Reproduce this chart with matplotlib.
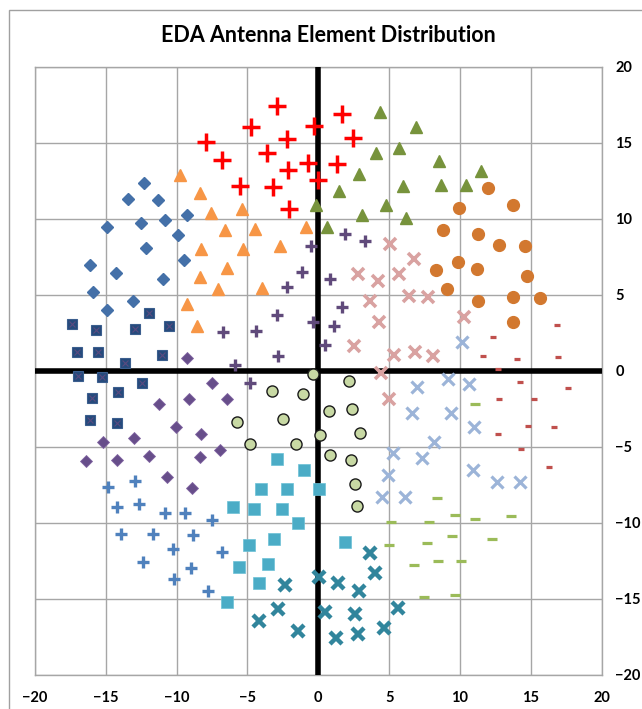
import numpy as np
import matplotlib
matplotlib.use("Agg")
import matplotlib.pyplot as plt
from matplotlib.patches import Rectangle

plt.rcParams["font.family"] = ["Lato", "DejaVu Sans"]

# 各组天线单元坐标 (x, y)
red_plus_x = [-2.90, -4.75, -0.28, 1.65, -7.95, -2.21, 2.47, -6.78, -3.64, -0.73, 1.30, -2.12, -5.53, -3.22, 0.00, -2.05]
red_plus_y = [17.41, 16.05, 16.12, 16.89, 15.03, 15.26, 15.33, 13.86, 14.30, 13.68, 13.58, 13.20, 12.15, 12.11, 12.57, 10.64]

olive_tri_x = [4.36, 6.92, 5.72, 4.10, 8.55, 2.90, 11.51, 1.44, 5.96, 8.69, 10.43, -0.16, 4.80, 3.09, 6.17, 0.59]
olive_tri_y = [17.04, 16.05, 14.63, 14.30, 13.82, 12.92, 13.16, 11.82, 12.15, 12.20, 12.20, 10.90, 10.90, 10.24, 10.03, 9.47]

orange_dot_x = [11.98, 9.96, 13.73, 8.78, 11.30, 12.74, 14.58, 9.84, 11.23, 8.29, 14.72, 9.07, 11.30, 13.73, 15.66, 13.73]
orange_dot_y = [12.00, 10.68, 10.88, 9.26, 8.99, 8.29, 8.20, 7.17, 6.71, 6.61, 6.21, 5.38, 4.61, 4.85, 4.78, 3.22]

orange_tri_x = [-9.77, -8.38, -7.58, -5.39, -6.57, -4.47, -0.87, -8.26, -5.34, -2.68, -6.43, -8.38, -7.06, -4.00, -9.29, -8.59]
orange_tri_y = [12.88, 11.67, 10.36, 10.62, 9.26, 9.32, 9.47, 8.01, 8.01, 8.22, 6.74, 6.18, 5.36, 5.42, 4.37, 2.96]

blue_dia_x = [-12.29, -13.42, -11.30, -9.29, -10.83, -12.54, -14.94, -9.93, -12.17, -9.51, -16.12, -14.31, -10.97, -15.91, -13.11, -14.94]
blue_dia_y = [12.33, 11.32, 11.23, 10.26, 9.91, 9.74, 9.43, 8.91, 8.05, 7.26, 6.95, 6.45, 6.03, 5.18, 4.59, 3.97]

navy_sq_x = [-11.94, -17.37, -15.68, -12.97, -10.52, -17.02, -15.56, -11.02, -13.67, -16.95, -15.30, -12.43, -16.00, -14.12, -16.12, -14.24]
navy_sq_y = [3.78, 3.05, 2.68, 2.74, 2.92, 1.23, 1.23, 1.03, 0.51, -0.33, -0.43, -0.79, -1.82, -1.42, -3.24, -3.42]

purple_dia_x = [-9.29, -7.51, -11.23, -9.13, -6.43, -10.07, -8.26, -15.21, -13.04, -6.92, -16.41, -14.19, -11.94, -8.38, -10.71, -8.94]
purple_dia_y = [0.86, -0.83, -2.19, -1.88, -1.88, -3.73, -4.16, -4.67, -4.45, -5.20, -5.96, -5.89, -5.59, -5.66, -7.01, -7.72]

purple_plus_x = [-0.52, -1.13, 0.80, -2.21, -2.90, -0.37, -6.73, -4.42, 0.45, -2.82, -5.88, 1.86, 3.32, 1.69, 1.09, -4.82]
purple_plus_y = [8.22, 6.47, 6.03, 5.53, 3.64, 3.20, 2.55, 2.61, 1.69, 0.99, 0.36, 8.97, 8.55, 4.21, 2.92, -0.83]

pink_x_x = [5.06, 6.74, 2.82, 4.24, 5.68, 6.43, 7.77, 3.67, 4.29, 10.29, 2.54, 5.35, 6.81, 8.12, 4.41, 4.97]
pink_x_y = [8.32, 7.33, 6.36, 5.90, 6.36, 4.91, 4.83, 4.61, 3.22, 3.51, 1.63, 1.05, 1.21, 0.97, -0.13, -1.88]

ltblue_x_x = [10.13, 9.16, 10.64, 6.95, 6.60, 9.37, 11.02, 8.17, 5.28, 7.30, 10.95, 4.92, 12.60, 14.24, 4.52, 6.10]
ltblue_x_y = [1.87, -0.53, -0.88, -1.09, -2.80, -2.80, -3.68, -4.67, -5.39, -5.72, -6.53, -6.84, -7.30, -7.30, -8.33, -8.33]

red_dash_x = [16.84, 12.32, 11.61, 14.05, 16.95, 12.71, 14.24, 17.66, 12.78, 15.23, 14.83, 16.62, 12.71, 14.32, 16.31]
red_dash_y = [2.99, 2.22, 0.99, 0.79, 0.92, 0.09, -0.72, -1.16, -1.88, -1.88, -3.64, -3.70, -4.14, -5.15, -6.36]

green_dash_x = [11.09, 8.38, 9.68, 11.09, 13.59, 5.11, 7.82, 4.97, 7.68, 9.44, 12.27, 6.78, 8.45, 10.06, 7.46, 9.68]
green_dash_y = [-2.21, -8.38, -9.49, -9.74, -9.56, -9.95, -9.95, -11.49, -11.36, -10.89, -11.09, -12.78, -12.54, -12.54, -14.89, -14.74]

ltgreen_dot_x = [-0.35, -3.25, -1.10, 0.75, -5.74, -2.49, -4.82, -1.60, 0.10, 0.80, 2.19, 2.36, 2.94, 2.29, 2.59, 2.73]
ltgreen_dot_y = [-0.24, -1.34, -1.53, -2.64, -3.36, -3.16, -4.82, -4.82, -4.25, -5.55, -0.68, -2.52, -4.12, -5.86, -7.45, -8.88]

teal_sq_x = [-2.94, -1.03, -4.03, -2.23, 0.07, -6.05, -4.52, -2.56, -1.45, -3.11, -4.87, -5.58, -3.55, -4.19, -6.45, 1.89]
teal_sq_y = [-5.83, -6.53, -7.76, -7.76, -7.80, -8.97, -9.12, -9.12, -10.04, -11.09, -11.45, -12.89, -12.74, -13.97, -15.22, -11.25]

teal_x_x = [-2.35, 0.03, -2.85, -4.17, -1.41, 0.47, 3.65, 4.03, 1.37, 2.90, 5.65, 2.61, 4.66, 2.82, 1.23]
teal_x_y = [-14.12, -13.55, -15.70, -16.49, -17.14, -15.86, -12.01, -13.29, -13.95, -14.47, -15.63, -15.99, -16.95, -17.34, -17.59]

blue_plus_x = [-14.87, -12.92, -14.24, -12.64, -10.83, -9.39, -7.51, -13.95, -11.69, -8.83, -10.24, -6.80, -12.40, -9.01, -10.21, -7.79]
blue_plus_y = [-7.63, -7.26, -8.99, -8.77, -9.34, -9.34, -9.82, -10.72, -10.76, -10.83, -11.75, -11.95, -12.57, -13.00, -13.72, -14.51]

W, H = 642, 709
fig = plt.figure(figsize=(W / 100, H / 100), dpi=100)

# 外框（右、下被裁掉）
fig.patches.append(Rectangle((9 / W, -0.1), 1.2, 1 - 10 / H + 0.1, transform=fig.transFigure,
                             fill=False, edgecolor='#A0A0A0', lw=1.0))

ax = fig.add_axes([35 / W, 1 - 674.7 / H, (601.6 - 35) / W, (674.7 - 66.7) / H])

def pts(x, y, **kw):
    ax.plot(x, y, linestyle='none', **kw)

pts(red_plus_x, red_plus_y, marker='+', ms=13.5, mew=2.5, color='#FF0000', zorder=5)
pts(olive_tri_x, olive_tri_y, marker='^', ms=9, color='#77933C', mec='#77933C', zorder=5)
pts(orange_dot_x, orange_dot_y, marker='o', ms=8.5, color='#D2782F', mec='#D2782F', zorder=5)
pts(orange_tri_x, orange_tri_y, marker='^', ms=9, color='#F79646', mec='#F79646', zorder=5)
pts(blue_dia_x, blue_dia_y, marker='D', ms=6.5, color='#4470A8', mec='#4470A8', zorder=5)
pts(navy_sq_x, navy_sq_y, marker='s', ms=7.5, color='#254A7C', mec='#3B5E8E', mew=0.8, zorder=5)
pts(navy_sq_x, navy_sq_y, marker='x', ms=5, color='#5B4A80', mew=0.8, zorder=6)
pts(purple_dia_x, purple_dia_y, marker='D', ms=6.5, color='#674E8A', mec='#8064A2', mew=0.6, zorder=5)
pts(purple_plus_x, purple_plus_y, marker='+', ms=9, mew=2.4, color='#604A7B', zorder=5)
pts(pink_x_x, pink_x_y, marker='x', ms=9, mew=2.6, color='#D9A2A1', zorder=5)
pts(ltblue_x_x, ltblue_x_y, marker='x', ms=9, mew=2.3, color='#9CB4D8', zorder=5)
pts(red_dash_x, red_dash_y, marker='_', ms=5, mew=2.3, color='#C0504D', zorder=5)
pts(green_dash_x, green_dash_y, marker='_', ms=7.5, mew=2.3, color='#9BBB59', zorder=5)
pts(ltgreen_dot_x, ltgreen_dot_y, marker='o', ms=8, color='#C8D9A4', mec='#1A1A1A', mew=1.0, zorder=5)
pts(teal_sq_x, teal_sq_y, marker='s', ms=8, color='#4BACC6', mec='#6BC0D6', mew=0.5, zorder=5)
pts(teal_x_x, teal_x_y, marker='x', ms=9, mew=3.2, color='#31859C', zorder=5)
pts(blue_plus_x, blue_plus_y, marker='+', ms=9, mew=2.4, color='#4F81BD', zorder=5)

ax.set_xlim(-20, 20)
ax.set_ylim(-20, 20)
ax.set_xticks(np.arange(-20, 21, 5))
ax.set_yticks(np.arange(-20, 21, 5))
ax.grid(True, color='#A6A6A6', lw=1.0, zorder=0)
ax.set_axisbelow(True)
for s in ax.spines.values():
    s.set_color('#A6A6A6')
    s.set_linewidth(1.0)
ax.axhline(0, color='black', lw=4, zorder=3)
ax.axvline(0, color='black', lw=4, zorder=3)

ax.yaxis.tick_right()
ax.tick_params(axis='both', length=0, labelsize=10.5)
ax.tick_params(axis='x', pad=12)
ax.tick_params(axis='y', pad=10)
for lab in ax.get_xticklabels() + ax.get_yticklabels():
    lab.set_fontweight('bold')
for lab in ax.get_yticklabels():
    lab.set_horizontalalignment('left')

fig.text(328 / W, 1 - 36 / H, 'EDA Antenna Element Distribution', ha='center', va='center',
         fontsize=15.5, fontweight='bold')

fig.savefig('out.png', dpi=100)
